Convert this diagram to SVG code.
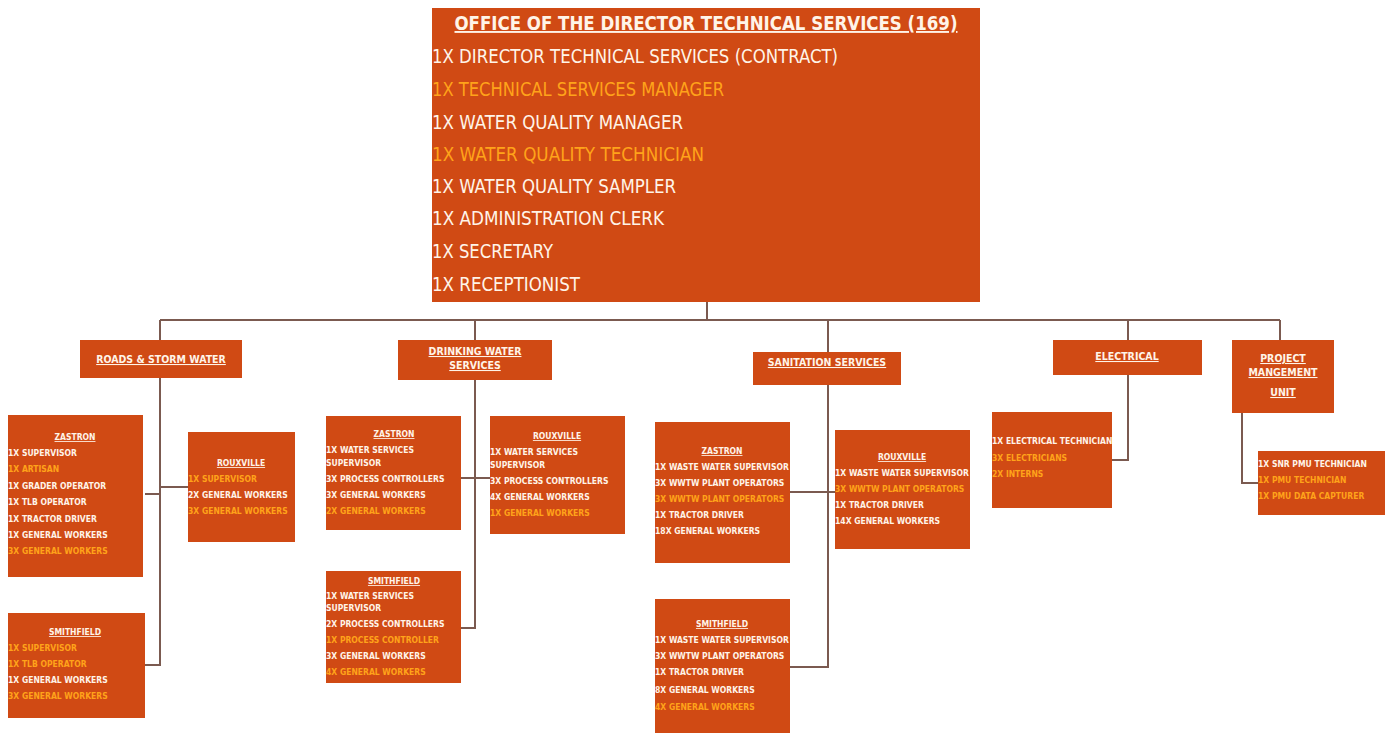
<svg xmlns="http://www.w3.org/2000/svg" width="1393" height="733" viewBox="0 0 1393 733">
<style>
.box{fill:#D04A14}
.w{fill:#FFF4E8}
.o{fill:#FFA31A}
.big{font-family:"Liberation Sans Narrow","DejaVu Sans Condensed","Liberation Sans",sans-serif;font-size:19px}
.sm{font-family:"Liberation Sans Narrow","DejaVu Sans Condensed","Liberation Sans",sans-serif;font-size:8.5px;font-weight:bold}
.hd{font-family:"Liberation Sans Narrow","DejaVu Sans Condensed","Liberation Sans",sans-serif;font-size:10.5px;font-weight:bold;text-decoration:underline;fill:#FFF4E8;text-anchor:middle}
.ttl{font-family:"Liberation Sans Narrow","DejaVu Sans Condensed","Liberation Sans",sans-serif;font-size:8.5px;font-weight:bold;text-decoration:underline;fill:#FFF4E8;text-anchor:middle}
.ln{fill:none;stroke:#7B5A50;stroke-width:2}
</style>
<rect width="1393" height="733" fill="#FFFFFF"/>
<g id="connectors">
<path class="ln" d="M707,302 V320 M160,320 H1280 M160,320 V340 M475,320 V340 M828,320 V352 M1128,320 V340 M1280,320 V340"/>
<path class="ln" d="M160,378 V665 H145 M145,494 H160 M160,487 H188"/>
<path class="ln" d="M475,380 V628 H461 M461,478 H490"/>
<path class="ln" d="M828,385 V667 H790 M790,492 H835"/>
<path class="ln" d="M1128,375 V460 H1112"/>
<path class="ln" d="M1242,413 V483 H1258"/>
</g>
<g id="director">
<rect class="box" x="432" y="8" width="548" height="294"/>
<text class="big w" x="706" y="30" text-anchor="middle" font-weight="bold" text-decoration="underline" textLength="503" lengthAdjust="spacingAndGlyphs">OFFICE OF THE DIRECTOR TECHNICAL SERVICES (169)</text>
<text class="big w" x="432" y="63" textLength="406" lengthAdjust="spacingAndGlyphs">1X DIRECTOR TECHNICAL SERVICES (CONTRACT)</text>
<text class="big o" x="432" y="96" textLength="292" lengthAdjust="spacingAndGlyphs">1X TECHNICAL SERVICES MANAGER</text>
<text class="big w" x="432" y="129" textLength="251" lengthAdjust="spacingAndGlyphs">1X WATER QUALITY MANAGER</text>
<text class="big o" x="432" y="161" textLength="272" lengthAdjust="spacingAndGlyphs">1X WATER QUALITY TECHNICIAN</text>
<text class="big w" x="432" y="193" textLength="244" lengthAdjust="spacingAndGlyphs">1X WATER QUALITY SAMPLER</text>
<text class="big w" x="432" y="225" textLength="232" lengthAdjust="spacingAndGlyphs">1X ADMINISTRATION CLERK</text>
<text class="big w" x="432" y="258" textLength="121" lengthAdjust="spacingAndGlyphs">1X SECRETARY</text>
<text class="big w" x="432" y="291" textLength="148" lengthAdjust="spacingAndGlyphs">1X RECEPTIONIST</text>
</g>
<g id="roads">
<rect class="box" x="80" y="340" width="162" height="38"/>
<text class="hd" x="161" y="363">ROADS &amp; STORM WATER</text>
</g>
<g id="drinking">
<rect class="box" x="398" y="340" width="154" height="40"/>
<text class="hd" x="475" y="355">DRINKING WATER</text>
<text class="hd" x="475" y="369">SERVICES</text>
</g>
<g id="sanitation">
<rect class="box" x="753" y="352" width="148" height="33"/>
<text class="hd" x="827" y="366">SANITATION SERVICES</text>
</g>
<g id="electrical">
<rect class="box" x="1053" y="340" width="149" height="35"/>
<text class="hd" x="1127" y="360">ELECTRICAL</text>
</g>
<g id="pmu">
<rect class="box" x="1232" y="340" width="102" height="73"/>
<text class="hd" x="1283" y="362">PROJECT</text>
<text class="hd" x="1283" y="376">MANGEMENT</text>
<text class="hd" x="1283" y="396">UNIT</text>
</g>
<g id="roads-zastron">
<rect class="box" x="8" y="415" width="135" height="162"/>
<text class="ttl" x="75" y="440">ZASTRON</text>
<text class="sm w" x="8" y="456">1X SUPERVISOR</text>
<text class="sm o" x="8" y="472">1X ARTISAN</text>
<text class="sm w" x="8" y="489">1X GRADER OPERATOR</text>
<text class="sm w" x="8" y="505">1X TLB OPERATOR</text>
<text class="sm w" x="8" y="522">1X TRACTOR DRIVER</text>
<text class="sm w" x="8" y="538">1X GENERAL WORKERS</text>
<text class="sm o" x="8" y="554">3X GENERAL WORKERS</text>
</g>
<g id="roads-rouxville">
<rect class="box" x="188" y="432" width="107" height="110"/>
<text class="ttl" x="241" y="466">ROUXVILLE</text>
<text class="sm o" x="188" y="482">1X SUPERVISOR</text>
<text class="sm w" x="188" y="498">2X GENERAL WORKERS</text>
<text class="sm o" x="188" y="514">3X GENERAL WORKERS</text>
</g>
<g id="roads-smithfield">
<rect class="box" x="8" y="613" width="137" height="105"/>
<text class="ttl" x="75" y="635">SMITHFIELD</text>
<text class="sm o" x="8" y="651">1X SUPERVISOR</text>
<text class="sm o" x="8" y="667">1X TLB OPERATOR</text>
<text class="sm w" x="8" y="683">1X GENERAL WORKERS</text>
<text class="sm o" x="8" y="699">3X GENERAL WORKERS</text>
</g>
<g id="dw-zastron">
<rect class="box" x="326" y="416" width="135" height="114"/>
<text class="ttl" x="394" y="437">ZASTRON</text>
<text class="sm w" x="326" y="453">1X WATER SERVICES</text>
<text class="sm w" x="326" y="466">SUPERVISOR</text>
<text class="sm w" x="326" y="482">3X PROCESS CONTROLLERS</text>
<text class="sm w" x="326" y="498">3X GENERAL WORKERS</text>
<text class="sm o" x="326" y="514">2X GENERAL WORKERS</text>
</g>
<g id="dw-rouxville">
<rect class="box" x="490" y="416" width="135" height="118"/>
<text class="ttl" x="557" y="439">ROUXVILLE</text>
<text class="sm w" x="490" y="455">1X WATER SERVICES</text>
<text class="sm w" x="490" y="468">SUPERVISOR</text>
<text class="sm w" x="490" y="484">3X PROCESS CONTROLLERS</text>
<text class="sm w" x="490" y="500">4X GENERAL WORKERS</text>
<text class="sm o" x="490" y="516">1X GENERAL WORKERS</text>
</g>
<g id="dw-smithfield">
<rect class="box" x="326" y="571" width="135" height="112"/>
<text class="ttl" x="394" y="584">SMITHFIELD</text>
<text class="sm w" x="326" y="599">1X WATER SERVICES</text>
<text class="sm w" x="326" y="611">SUPERVISOR</text>
<text class="sm w" x="326" y="627">2X PROCESS CONTROLLERS</text>
<text class="sm o" x="326" y="643">1X PROCESS CONTROLLER</text>
<text class="sm w" x="326" y="659">3X GENERAL WORKERS</text>
<text class="sm o" x="326" y="675">4X GENERAL WORKERS</text>
</g>
<g id="san-zastron">
<rect class="box" x="655" y="422" width="135" height="141"/>
<text class="ttl" x="722" y="454">ZASTRON</text>
<text class="sm w" x="655" y="470">1X WASTE WATER SUPERVISOR</text>
<text class="sm w" x="655" y="486">3X WWTW PLANT OPERATORS</text>
<text class="sm o" x="655" y="502">3X WWTW PLANT OPERATORS</text>
<text class="sm w" x="655" y="518">1X TRACTOR DRIVER</text>
<text class="sm w" x="655" y="534">18X GENERAL WORKERS</text>
</g>
<g id="san-rouxville">
<rect class="box" x="835" y="430" width="135" height="119"/>
<text class="ttl" x="902" y="460">ROUXVILLE</text>
<text class="sm w" x="835" y="476">1X WASTE WATER SUPERVISOR</text>
<text class="sm o" x="835" y="492">3X WWTW PLANT OPERATORS</text>
<text class="sm w" x="835" y="508">1X TRACTOR DRIVER</text>
<text class="sm w" x="835" y="524">14X GENERAL WORKERS</text>
</g>
<g id="san-smithfield">
<rect class="box" x="655" y="599" width="135" height="134"/>
<text class="ttl" x="722" y="627">SMITHFIELD</text>
<text class="sm w" x="655" y="643">1X WASTE WATER SUPERVISOR</text>
<text class="sm w" x="655" y="659">3X WWTW PLANT OPERATORS</text>
<text class="sm w" x="655" y="675">1X TRACTOR DRIVER</text>
<text class="sm w" x="655" y="693">8X GENERAL WORKERS</text>
<text class="sm o" x="655" y="710">4X GENERAL WORKERS</text>
</g>
<g id="elec-staff">
<rect class="box" x="992" y="412" width="120" height="96"/>
<text class="sm w" x="992" y="444">1X ELECTRICAL TECHNICIAN</text>
<text class="sm o" x="992" y="461">3X ELECTRICIANS</text>
<text class="sm o" x="992" y="477">2X INTERNS</text>
</g>
<g id="pmu-staff">
<rect class="box" x="1258" y="451" width="127" height="64"/>
<text class="sm w" x="1258" y="467">1X SNR PMU TECHNICIAN</text>
<text class="sm o" x="1258" y="483">1X PMU TECHNICIAN</text>
<text class="sm o" x="1258" y="499">1X PMU DATA CAPTURER</text>
</g>
</svg>
